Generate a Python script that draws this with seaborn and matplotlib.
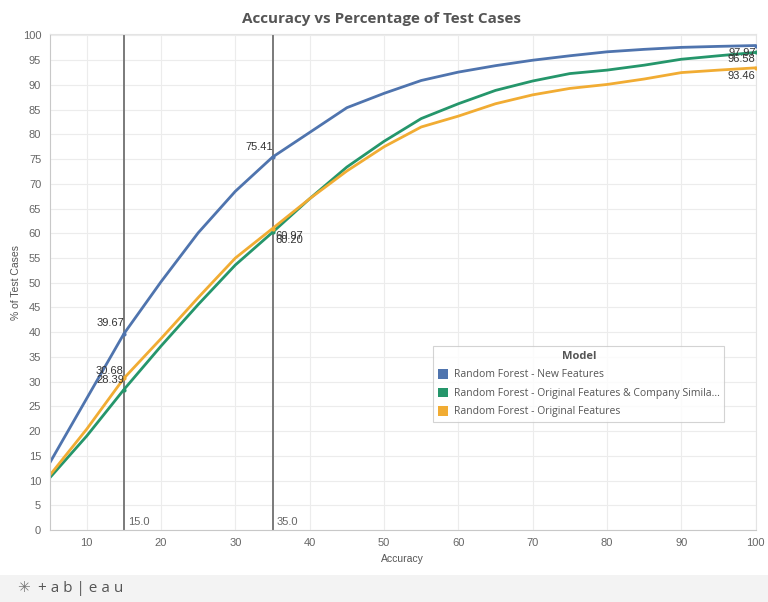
import numpy as np
import pandas as pd
import matplotlib.pyplot as plt
import seaborn as sns
from matplotlib.patches import Patch, Rectangle

# === DATA ===
accuracy = [5, 10, 15, 20, 25, 30, 35, 40, 45, 50, 55, 60, 65, 70, 75, 80, 85, 90, 95, 100]

new_features = [13.5, 26.6, 39.67, 50.2, 60.1, 68.5, 75.41, 80.4, 85.4, 88.3, 90.9, 92.6, 93.9, 95.0,
                95.9, 96.7, 97.2, 97.6, 97.8, 97.97]
orig_company = [10.5, 19.0, 28.39, 37.2, 45.6, 53.6, 60.20, 67.0, 73.4, 78.6, 83.2, 86.2, 88.9, 90.8,
                92.3, 93.0, 94.0, 95.2, 95.9, 96.58]
orig_features = [11.0, 20.4, 30.68, 38.7, 47.0, 55.0, 60.97, 67.0, 72.6, 77.5, 81.5, 83.7, 86.2, 88.0,
                 89.3, 90.1, 91.2, 92.5, 93.0, 93.46]

model_names = ["Random Forest - New Features",
               "Random Forest - Original Features & Company Similarity",
               "Random Forest - Original Features"]
legend_labels = ["Random Forest - New Features",
                 "Random Forest - Original Features & Company Simila...",
                 "Random Forest - Original Features"]
model_colors = ["#4f74ae", "#25966b", "#f1ac33"]

ref_lines = [15, 35]
labeled_x = [15, 35, 100]

# long format table for seaborn
df = pd.DataFrame({
    "Accuracy": accuracy * 3,
    "Percentage": new_features + orig_company + orig_features,
    "Model": [m for m in model_names for _ in accuracy],
})

# === STYLE ===
sns.set_style("whitegrid")
plt.rcParams['font.family'] = ['Liberation Sans', 'DejaVu Sans']

fig = plt.figure(figsize=(7.68, 6.02), dpi=100)
ax = fig.add_axes([0.0645, 0.1196, 0.9195, 0.8239])

sns.lineplot(data=df, x="Accuracy", y="Percentage", hue="Model",
             palette=dict(zip(model_names, model_colors)),
             linewidth=2.0, legend=False, ax=ax)

# reference lines
for xv in ref_lines:
    ax.axvline(xv, color="#7a7a7a", linewidth=1.4, zorder=1)
    ax.annotate(f"{xv:.1f}", xy=(xv, 0), xytext=(3, 2), textcoords="offset points",
                ha="left", va="bottom", fontsize=8, color="#666666")

# === DATA LABELS ===
series = [new_features, orig_company, orig_features]
# (dx, dy, ha, va) in points per model / x position
label_style = {
    (0, 15): (0, 4, "right", "bottom"),
    (1, 15): (0, 3, "right", "bottom"),
    (2, 15): (0, 2, "right", "bottom"),
    (0, 35): (0, 4, "right", "bottom"),
    (1, 35): (2, -2, "left", "top"),
    (2, 35): (2, -2, "left", "top"),
    (0, 100): (0, -2, "right", "top"),
    (1, 100): (0, -1, "right", "top"),
    (2, 100): (0, -2, "right", "top"),
}
for i, vals in enumerate(series):
    for xv in labeled_x:
        v = vals[accuracy.index(xv)]
        dx, dy, ha, va = label_style[(i, xv)]
        ax.annotate(f"{v:.2f}", xy=(xv, v), xytext=(dx, dy), textcoords="offset points",
                    ha=ha, va=va, fontsize=8, color="#333333", zorder=5)
        ax.scatter([xv], [v], s=9, color=model_colors[i], zorder=4, linewidths=0)

# === AXES ===
ax.set_xlim(5, 100)
ax.set_ylim(0, 100.3)
ax.set_xticks(range(10, 101, 10))
ax.set_yticks(range(0, 101, 5))
ax.tick_params(axis="both", labelsize=8, labelcolor="#666666", length=0, pad=6)
ax.grid(color="#ececec", linewidth=0.8)
ax.set_xlabel("Accuracy", fontsize=7.5, color="#555555", labelpad=4)
ax.set_ylabel("% of Test Cases", fontsize=7.5, color="#555555", labelpad=1)
for side in ["left", "bottom"]:
    ax.spines[side].set_color("#c8c8c8")
for side in ["top", "right"]:
    ax.spines[side].set_color("#e4e4e4")

fig.text(0.497, 0.969, "Accuracy vs Percentage of Test Cases", ha="center", va="center",
         fontsize=11, fontweight="bold", color="#555555", family=["Open Sans", "DejaVu Sans"])

# === LEGEND ===
handles = [Patch(facecolor=c, edgecolor="none") for c in model_colors]
leg = ax.legend(handles, legend_labels, title="Model", loc="upper left",
                bbox_to_anchor=(0.536, 0.381), frameon=True, fancybox=False,
                handlelength=1.0, handleheight=1.0, handletextpad=0.5,
                labelspacing=0.7, borderpad=0.45,
                prop={"family": ["Open Sans", "DejaVu Sans"], "size": 7.5})
leg.get_title().set_fontweight("bold")
leg.get_title().set_fontsize(8)
leg.get_title().set_color("#555555")
leg.get_title().set_family(["Open Sans", "DejaVu Sans"])
for t in leg.get_texts():
    t.set_color("#555555")
leg.get_frame().set_edgecolor("#c8c8c8")
leg.get_frame().set_linewidth(0.8)

# === TABLEAU FOOTER ===
fig.patches.append(Rectangle((0, 0), 1, 27 / 602, transform=fig.transFigure,
                             facecolor="#f3f3f3", edgecolor="none", zorder=0))
fig.text(0.022, 0.023, "\u2733", ha="left", va="center", fontsize=11, color="#777777")
fig.text(0.05, 0.023, "+ a b | e a u", ha="left", va="center", fontsize=11,
         color="#555555", family=["Open Sans", "DejaVu Sans"])

plt.savefig("out.png", dpi=100)
plt.close()
